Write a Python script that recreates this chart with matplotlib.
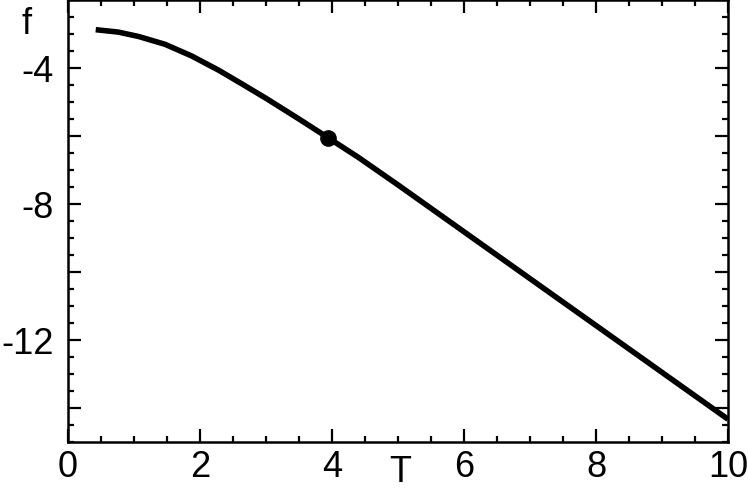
import matplotlib.pyplot as plt
import numpy as np
from matplotlib.ticker import MultipleLocator, FuncFormatter

plt.rcParams["font.family"] = ["Liberation Sans", "DejaVu Sans"]

# values
T = [0.42, 0.76, 1.07, 1.47, 1.87, 2.28, 2.63, 3.0, 3.5, 3.94, 4.4,
     5.0, 6.0, 7.0, 8.0, 9.0, 10.0]
f = [-2.86, -2.93, -3.06, -3.29, -3.63, -4.05, -4.45, -4.88, -5.49, -6.04, -6.62,
     -7.43, -8.81, -10.19, -11.57, -12.95, -14.33]
T_dot = [3.94]
f_dot = [-6.04]

fig = plt.figure(figsize=(7.48, 4.92), dpi=100)
ax = fig.add_axes([0.0909, 0.1016, 0.8824, 0.8974])

ax.plot(T, f, color="black", lw=4, solid_capstyle="butt", solid_joinstyle="round")
ax.plot(T_dot, f_dot, "o", color="black", ms=11)

ax.set_xlim(0, 10)
ax.set_ylim(-15, -2)

ax.xaxis.set_major_locator(MultipleLocator(2))
ax.xaxis.set_minor_locator(MultipleLocator(0.5))
ax.yaxis.set_major_locator(MultipleLocator(2))
ax.yaxis.set_minor_locator(MultipleLocator(0.5))
# only every other major y tick carries a label
ax.yaxis.set_major_formatter(FuncFormatter(lambda v, p: f"{v:.0f}" if v % 4 == 0 else ""))

ax.tick_params(which="both", direction="in", top=True, right=True, width=1.6,
               labelsize=26)
ax.tick_params(which="major", length=9.5)
ax.tick_params(which="minor", length=4.5)
ax.tick_params(axis="y", pad=10)
ax.tick_params(axis="x", pad=6)
for s in ax.spines.values():
    s.set_linewidth(1.8)

fig.text(0.036, 0.95, "f", fontsize=26, ha="center", va="center")
fig.text(0.535, 0.04, "T", fontsize=26, ha="center", va="center")

fig.savefig("out.png", dpi=100)
